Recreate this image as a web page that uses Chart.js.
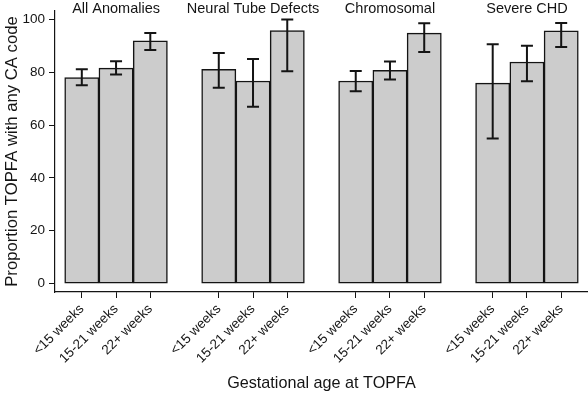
<!DOCTYPE html>
<html>
<head>
<meta charset="utf-8">
<script src="https://cdn.jsdelivr.net/npm/chart.js@4.4.1/dist/chart.umd.min.js"></script>
<style>
  html, body { margin: 0; padding: 0; background: #fff; }
</style>
</head>
<body>
<canvas id="chartTopfa" width="588" height="394"></canvas>
<script>
// groups and gestational age bands
const groups = ['All Anomalies', 'Neural Tube Defects', 'Chromosomal', 'Severe CHD'];
const ageBands = ['<15 weeks', '15-21 weeks', '22+ weeks'];

// proportion (%) per group, in age band order
const allAnomalies = [78.0, 81.6, 91.9];
const neuralTube = [81.1, 76.7, 95.8];
const chromosomal = [76.7, 80.7, 94.8];
const severeChd = [75.9, 83.9, 95.7];

// 95% CI limits, same order
const lowerCI = [[75.1, 79.2, 88.4], [74.1, 66.9, 80.4], [72.8, 77.3, 87.7], [54.9, 76.6, 89.6]];
const upperCI = [[81.1, 84.2, 94.9], [87.3, 85.0, 100.0], [80.5, 84.1, 98.6], [90.6, 90.0, 98.7]];

const yTicks = [0, 20, 40, 60, 80, 100];

const series = [allAnomalies, neuralTube, chromosomal, severeChd];
const ink = '#141414';
Chart.defaults.font.family = '"Liberation Sans", Arial, Helvetica, sans-serif';
Chart.defaults.color = ink;

// one slot per bar, one empty slot between groups
const points = [];
const lows = [];
const highs = [];
series.forEach((vals, g) => {
    vals.forEach((v, a) => {
        points.push({ x: g * 4 + a + 0.5, y: v });
        lows.push(lowerCI[g][a]);
        highs.push(upperCI[g][a]);
    });
});
const centers = points.map(p => p.x);

const errorBars = {
    id: 'errorBars',
    afterDatasetsDraw(chart) {
        const ctx = chart.ctx;
        const yScale = chart.scales.y;
        const meta = chart.getDatasetMeta(0);
        ctx.save();
        ctx.strokeStyle = ink;
        ctx.lineWidth = 2;
        meta.data.forEach((bar, i) => {
            const top = yScale.getPixelForValue(highs[i]);
            const bot = yScale.getPixelForValue(lows[i]);
            ctx.beginPath();
            ctx.moveTo(bar.x, top); ctx.lineTo(bar.x, bot);
            ctx.moveTo(bar.x - 6, top); ctx.lineTo(bar.x + 6, top);
            ctx.moveTo(bar.x - 6, bot); ctx.lineTo(bar.x + 6, bot);
            ctx.stroke();
        });
        ctx.restore();
    }
};

// panel titles above each group of bars
const groupTitles = {
    id: 'groupTitles',
    afterDraw(chart) {
        const ctx = chart.ctx;
        const xScale = chart.scales.x;
        ctx.save();
        ctx.fillStyle = ink;
        ctx.font = '14.5px ' + Chart.defaults.font.family;
        ctx.textAlign = 'center';
        ctx.textBaseline = 'middle';
        groups.forEach((name, g) => {
            ctx.fillText(name, xScale.getPixelForValue(g * 4 + 1.5), 8.5);
        });
        ctx.restore();
    }
};

new Chart(document.getElementById('chartTopfa'), {
    type: 'bar',
    plugins: [errorBars, groupTitles],
    data: {
        datasets: [{
            data: points,
            backgroundColor: '#cccccc',
            borderColor: ink,
            borderWidth: 1.5,
            borderSkipped: false,
            categoryPercentage: 1,
            barPercentage: 1
        }]
    },
    options: {
        responsive: false,
        animation: false,
        layout: { padding: { top: 11, left: 0, right: 0, bottom: 0 } },
        plugins: {
            legend: { display: false },
            tooltip: { enabled: false }
        },
        scales: {
            x: {
                type: 'linear',
                min: -0.283,
                max: 15.283,
                offset: false,
                grid: { offset: false, drawOnChartArea: false, tickLength: 6, color: ink },
                border: { display: true, color: ink, width: 1.2 },
                ticks: {
                    autoSkip: false,
                    minRotation: 45,
                    maxRotation: 45,
                    padding: 3,
                    color: ink,
                    font: { size: 13.5 },
                    callback: (value, index) => ageBands[index % 3]
                },
                afterBuildTicks: scale => { scale.ticks = centers.map(v => ({ value: v })); },
                afterFit: scale => { scale.height = 102; scale.paddingLeft = 0; scale.paddingRight = 0; },
                title: {
                    display: true,
                    text: 'Gestational age at TOPFA',
                    color: ink,
                    font: { size: 16.2 },
                    padding: { top: 0, bottom: 1 }
                }
            },
            y: {
                min: -3.2,
                max: 103.2,
                grid: { drawOnChartArea: false, tickLength: 6, color: ink },
                border: { display: true, color: ink, width: 1.2 },
                ticks: { padding: 4, color: ink, font: { size: 13.5 } },
                afterBuildTicks: scale => { scale.ticks = yTicks.map(v => ({ value: v })); },
                afterFit: scale => { scale.width = 55; scale.paddingTop = 0; scale.paddingBottom = 0; },
                title: {
                    display: true,
                    text: 'Proportion TOPFA with any CA code',
                    color: ink,
                    font: { size: 16.7 },
                    padding: { top: 2, bottom: 0 }
                }
            }
        }
    }
});
</script>
</body>
</html>
